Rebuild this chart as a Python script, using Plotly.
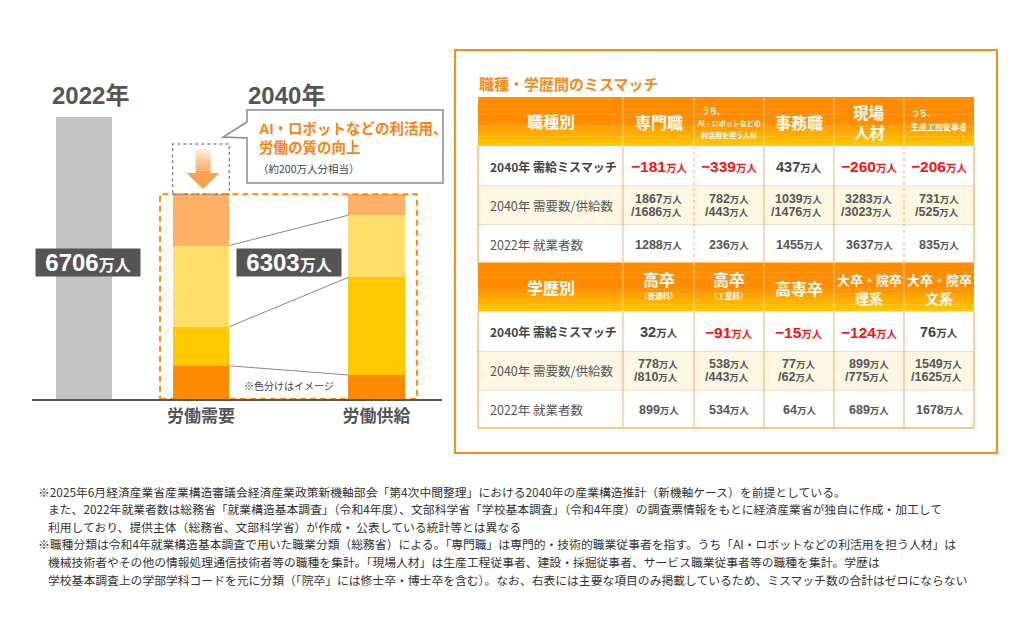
import plotly.graph_objects as go

# page is drawn inside the default 8px body margin
OFF = 8
FW, FH = 1016, 632
FONT = "Liberation Sans, Noto Sans CJK JP, sans-serif"
JP = "Noto Sans CJK JP, Noto Sans, sans-serif"

# ---------------- data ----------------
year_titles = ["2022年", "2040年"]
bar_cats = ["2022年", "労働需要", "労働供給"]
total_2022 = 6706
total_2040 = 6303
band_colors = ["#FF8A00", "#FFC800", "#FFDE6B", "#FDB066"]
demand_bands = [790, 930, 1930, 1220]
supply_bands = [570, 2320, 1480, 500]
uplift_band = 1194          # dashed box above demand (約200万人分相当 illustration)
callout_lines = ["AI・ロボットなどの利活用、", "労働の質の向上"]
callout_note = "（約200万人分相当）"
colour_note = "※色分けはイメージ"

table_title = "職種・学歴間のミスマッチ"
row_labels = ["2040年 需給ミスマッチ", "2040年 需要数/供給数", "2022年 就業者数"]

occ_corner = "職種別"
occ_cols = ["専門職", "うち、|AI・ロボットなどの|利活用を担う人材", "事務職", "現場|人材", "うち、|生産工程従事者"]
occ_mismatch = [-181, -339, 437, -260, -206]
occ_demand = [1867, 782, 1039, 3283, 731]
occ_supply = [1686, 443, 1476, 3023, 525]
occ_2022 = [1288, 236, 1455, 3637, 835]

edu_corner = "学歴別"
edu_cols = ["高卒|（普通科）", "高卒|（工業科）", "高専卒", "大卒・院卒|理系", "大卒・院卒|文系"]
edu_mismatch = [32, -91, -15, -124, 76]
edu_demand = [778, 538, 77, 899, 1549]
edu_supply = [810, 443, 62, 775, 1625]
edu_2022 = [899, 534, 64, 689, 1678]

footnotes = [
    "※2025年6月経済産業省産業構造審議会経済産業政策新機軸部会「第4次中間整理」における2040年の産業構造推計（新機軸ケース）を前提としている。",
    "また、2022年就業者数は総務省「就業構造基本調査」（令和4年度）、文部科学省「学校基本調査」（令和4年度）の調査票情報をもとに経済産業省が独自に作成・加工して",
    "利用しており、提供主体（総務省、文部科学省）が作成・ 公表している統計等とは異なる",
    "※職種分類は令和4年就業構造基本調査で用いた職業分類（総務省）による。「専門職」は専門的・技術的職業従事者を指す。うち「AI・ロボットなどの利活用を担う人材」は",
    "機械技術者やその他の情報処理通信技術者等の職種を集計。「現場人材」は生産工程従事者、建設・採掘従事者、サービス職業従事者等の職種を集計。学歴は",
    "学校基本調査上の学部学科コードを元に分類（「院卒」には修士卒・博士卒を含む）。なお、右表には主要な項目のみ掲載しているため、ミスマッチ数の合計はゼロにならない",
]

# ---------------- helpers (page pixels -> paper) ----------------
def X(px):
    return (px - OFF) / FW


def Y(py):
    return 1 - (py - OFF) / FH


fig = go.Figure()
shapes = []
anns = []


def ann(x, y, text, size, color="#444444", xanchor="center", family=FONT, **kw):
    anns.append(dict(x=X(x), y=Y(y), xref="paper", yref="paper", text=text,
                     showarrow=False, xanchor=xanchor, yanchor="middle",
                     font=dict(size=size, color=color, family=family), **kw))


def rect(x0, y0, x1, y1, fill="rgba(0,0,0,0)", lc=None, lw=0, dash=None, layer="above"):
    d = dict(type="rect", xref="paper", yref="paper", x0=X(x0), x1=X(x1), y0=Y(y0), y1=Y(y1),
             fillcolor=fill, layer=layer, line=dict(width=lw, color=lc or "rgba(0,0,0,0)"))
    if dash:
        d["line"]["dash"] = dash
    shapes.append(d)


def hline(x0, x1, y, color, lw=1, dash=None):
    d = dict(type="line", xref="paper", yref="paper", x0=X(x0), x1=X(x1), y0=Y(y), y1=Y(y),
             line=dict(color=color, width=lw))
    if dash:
        d["line"]["dash"] = dash
    shapes.append(d)


def vline(x, y0, y1, color, lw=1, dash=None):
    d = dict(type="line", xref="paper", yref="paper", x0=X(x), x1=X(x), y0=Y(y0), y1=Y(y1),
             line=dict(color=color, width=lw))
    if dash:
        d["line"]["dash"] = dash
    shapes.append(d)


# ---------------- left chart (bars through axes) ----------------
cat_order = [bar_cats[0], "_g1", bar_cats[1], "_g2", "_g3", bar_cats[2]]
idx = {c: i for i, c in enumerate(cat_order)}
AX_L, AX_R = 32, 442
XR0, XR1 = -0.889, 6.12
Y_BOT, Y_TOPPX = 399, 79
Y_TOP = total_2022 * (Y_BOT - Y_TOPPX) / 282.0
BW = 0.97


def xpx(v):
    return AX_L + (v - XR0) / (XR1 - XR0) * (AX_R - AX_L)


def ypx(v):
    return Y_BOT - v / Y_TOP * (Y_BOT - Y_TOPPX)


fig.add_bar(x=[bar_cats[0]], y=[total_2022], marker=dict(color="#C4C4C4", line=dict(width=0)),
            width=0.96, hoverinfo="skip")
for c, d, s in zip(band_colors, demand_bands, supply_bands):
    fig.add_bar(x=[bar_cats[1], bar_cats[2]], y=[d, s], width=BW,
                marker=dict(color=c, line=dict(width=0)), hoverinfo="skip")

iD, iS = idx[bar_cats[1]], idx[bar_cats[2]]
cum_d, cum_s = [], []
acc = 0
for v in demand_bands:
    acc += v
    cum_d.append(acc)
acc = 0
for v in supply_bands:
    acc += v
    cum_s.append(acc)

# connector lines between band boundaries
for k in range(len(demand_bands) - 1):
    shapes.append(dict(type="line", xref="x", yref="y", x0=iD + BW / 2, x1=iS - BW / 2,
                       y0=cum_d[k], y1=cum_s[k], line=dict(color="#8A8A8A", width=1)))

# orange dashed frame around 2040 bars
shapes.append(dict(type="rect", xref="x", yref="y", x0=iD - 0.7, x1=iS + 0.69, y0=0, y1=cum_d[-1],
                   line=dict(color="#FF8A00", width=2, dash="6px,4px"), fillcolor="rgba(0,0,0,0)"))
# grey dashed box above demand bar
shapes.append(dict(type="rect", xref="x", yref="y", x0=iD - BW / 2, x1=iD + BW / 2,
                   y0=cum_d[-1], y1=cum_d[-1] + uplift_band,
                   line=dict(color="#8A8A8A", width=1.5, dash="3px,3px"), fillcolor="rgba(0,0,0,0)"))

# gradient arrow inside the grey box
cx = xpx(iD) + 2
top_box = ypx(cum_d[-1] + uplift_band)
a_top, a_mid, a_tip = top_box + 5, top_box + 29, top_box + 45
n = 10
for k in range(n):
    t = (k + 1) / n
    y0 = a_top + (a_mid - a_top) * k / n
    y1 = a_top + (a_mid - a_top) * (k + 1) / n
    rect(cx - 7.5, y0, cx + 7.5, y1, fill=f"rgba(253,160,80,{0.12 + 0.88 * t:.2f})")
shapes.append(dict(type="path", xref="paper", yref="paper",
                   path=f"M {X(cx-16.5)},{Y(a_mid)} L {X(cx+16.5)},{Y(a_mid)} L {X(cx)},{Y(a_tip)} Z",
                   fillcolor="#FDA04F", line=dict(width=0)))

# value labels on dark boxes
y_lab = (Y_BOT - 262.5) / (Y_BOT - Y_TOPPX) * Y_TOP
for xv, tot, xs in [(idx[bar_cats[0]], total_2022, 4), ((iD + iS) / 2, total_2040, 0)]:
    anns.append(dict(x=xv, y=y_lab, xref="x", yref="y", xshift=xs, showarrow=False,
                     text=f"<b>{tot}</b><span style='font-size:16px'><b>万人</b></span>",
                     font=dict(size=24, color="white", family=FONT), bgcolor="#555555",
                     width=104, height=27, borderpad=0, valign="middle"))

# year titles
ann(xpx(idx[bar_cats[0]]) + 6, 95, f"<b>{year_titles[0]}</b>", 24, "#555555")
ann(xpx((iD + iS) / 2) - 2, 95, f"<b>{year_titles[1]}</b>", 24, "#555555")

# callout
cpath = [(247, 110), (443, 110), (443, 183), (247, 183), (247, 138), (223, 137), (247, 122)]
shapes.append(dict(type="path", xref="paper", yref="paper",
                   path="M " + " L ".join(f"{X(a)},{Y(b)}" for a, b in cpath) + " Z",
                   fillcolor="white", line=dict(color="#8A8A8A", width=1.5)))
ann(257, 129, f"<b>{callout_lines[0]}</b>", 14.5, "#FA8214", xanchor="left")
ann(257, 148, f"<b>{callout_lines[1]}</b>", 14.5, "#FA8214", xanchor="left")
ann(256, 168, callout_note, 10.5, "#444444", xanchor="left", family=JP)
ann(xpx((iD + iS) / 2), 385, colour_note, 10, "#444444", family=JP)

# ---------------- right panel / table ----------------
rect(455, 50, 997, 453, lc="#FF8C1A", lw=2)
ann(477, 84, f"<b>{table_title}</b>", 15, "#F28A1E", xanchor="left", family=JP)

COLS = [478, 623, 694, 764, 834, 904, 974]
HEAD_H = 49
ROW_H = [40, 38.5, 38]
BORDER_OR = "#F7B068"
BORDER_GR = "#E6DCC8"


def grad(t):
    a, b = (255, 140, 0), (255, 200, 0)
    if t < 0.5:
        return "rgb(255,140,0)"
    u = (t - 0.5) / 0.5
    return "rgb(%d,%d,%d)" % tuple(round(a[i] + (b[i] - a[i]) * u) for i in range(3))


def man(v, fs_unit):
    return f"{v}<span style='font-size:{fs_unit}px'>万人</span>"


def est_w(s, fs_num, fs_unit):
    w = 0
    for ch in s:
        w += 0.3 * fs_num if ch in "/ " else 0.556 * fs_num
    return w + 2 * fs_unit


sections = [
    (97.0, occ_corner, occ_cols, occ_mismatch, occ_demand, occ_supply, occ_2022, True),
    (262.5, edu_corner, edu_cols, edu_mismatch, edu_demand, edu_supply, edu_2022, False),
]

for T, corner, heads, mis, dem, sup, emp, dotted in sections:
    # header gradient
    ns = 20
    for k in range(ns):
        rect(COLS[0], T + HEAD_H * k / ns, COLS[-1], T + HEAD_H * (k + 1) / ns + 0.4, fill=grad(k / (ns - 1)))
    for j in range(1, 6):
        vline(COLS[j], T, T + HEAD_H, "rgba(255,255,255,0.55)", 1)
    yc = T + HEAD_H / 2
    ann((COLS[0] + COLS[1]) / 2, yc, f"<b>{corner}</b>", 16, "white", family=JP)
    for j, h in enumerate(heads):
        c = (COLS[j + 1] + COLS[j + 2]) / 2
        parts = h.split("|")
        if parts[0] == "うち、":
            subs = parts[1:]
            fs = 7 if len(subs) > 1 else 8
            offs = [-11, 1.5, 13.5] if len(subs) > 1 else [-9.5, 4.5]
            ann(COLS[j + 1] + 6, yc + offs[0], "<b>うち、</b>", 7.5, "white", xanchor="left", family=JP)
            for s, o in zip(subs, offs[1:]):
                ann(c, yc + o, f"<b>{s}</b>", fs, "white", family=JP)
        elif len(parts) == 1:
            ann(c, yc + 0.5, f"<b>{parts[0]}</b>", 16, "white", family=JP)
        else:
            a, b = parts
            if b.startswith("（"):
                ann(c, yc - 8, f"<b>{a}</b>", 16, "white", family=JP)
                ann(c, yc + 8.5, f"<b>{b}</b>", 7.5, "white", family=JP)
            elif len(a) >= 4:
                ann(c, yc - 7.5, f"<b>{a}</b>", 13, "white", family=JP)
                ann(c, yc + 10.5, f"<b>{b}</b>", 14, "white", family=JP)
            else:
                ann(c, yc - 9.5, f"<b>{a}</b>", 15.5, "white", family=JP)
                ann(c, yc + 10.5, f"<b>{b}</b>", 15.5, "white", family=JP)

    # body
    r = [T + HEAD_H]
    for h in ROW_H:
        r.append(r[-1] + h)
    fills = ["white", "#FCF6E3", "white"]
    for i in range(3):
        rect(COLS[0], r[i], COLS[-1], r[i + 1], fill=fills[i])
    for i in (1, 2):
        hline(COLS[0], COLS[-1], r[i], BORDER_GR, 1)
    for j in range(1, 6):
        dash = "dot" if (dotted and j in (2, 5)) else None
        vline(COLS[j], r[0], r[3], BORDER_OR, 1, dash)
    vline(COLS[0], r[0], r[3], BORDER_OR, 1.3)
    vline(COLS[-1], r[0], r[3], BORDER_OR, 1.3)
    if not dotted:
        hline(COLS[0], COLS[-1], r[3], BORDER_OR, 1.5)

    # row labels
    mids = [(r[i] + r[i + 1]) / 2 for i in range(3)]
    ann(488, mids[0], f"<b>{row_labels[0]}</b>", 12, "#444444", xanchor="left", family=JP)
    ann(488, mids[1], row_labels[1], 12.5, "#555555", xanchor="left", family=JP)
    ann(488, mids[2] + 0.5, row_labels[2], 12.5, "#555555", xanchor="left", family=JP)

    for j in range(5):
        c = (COLS[j + 1] + COLS[j + 2]) / 2
        v = mis[j]
        if v < 0:
            ann(c, mids[0] + 0.5, f"<b>−{abs(v)}<span style='font-size:10.5px'>万人</span></b>", 15.5, "#FF1010")
        else:
            ann(c, mids[0] + 0.5, f"<b>{v}<span style='font-size:10.5px'>万人</span></b>", 14.5, "#444444")
        s1, s2 = f"{dem[j]}", f"/{sup[j]}"
        wmax = max(est_w(s1, 12.5, 9.5), est_w(s2, 12.5, 9.5))
        xr = c + wmax / 2
        ann(xr, mids[1] - 6.5, f"<b>{man(s1, 9.5)}</b>", 12.5, "#555555", xanchor="right")
        ann(xr, mids[1] + 6.5, f"<b>{man(s2, 9.5)}</b>", 12.5, "#555555", xanchor="right")
        ann(c, mids[2] + 1, f"<b>{man(emp[j], 9.5)}</b>", 12.5, "#555555")

# ---------------- footnotes ----------------
for i, line in enumerate(footnotes):
    x0 = 36 if line.startswith("※") else 46
    ann(x0, 491 + 17.6 * i, line, 11.8, "#333333", xanchor="left", family=JP)

fig.update_layout(
    width=FW, height=FH, margin=dict(l=0, r=0, t=0, b=0),
    paper_bgcolor="white", plot_bgcolor="white",
    barmode="stack", bargap=0, showlegend=False, hovermode=False,
    xaxis=dict(type="category", categoryorder="array", categoryarray=cat_order,
               range=[XR0, XR1], domain=[X(AX_L), X(AX_R)],
               showline=True, linecolor="#555555", linewidth=2, showgrid=False, zeroline=False,
               ticks="", tickmode="array", tickvals=[bar_cats[1], bar_cats[2]],
               ticktext=[f"<b>{bar_cats[1]}</b>", f"<b>{bar_cats[2]}</b>"],
               tickfont=dict(size=17, color="#555555", family=JP), ticklabelstandoff=1),
    yaxis=dict(range=[0, Y_TOP], domain=[Y(Y_BOT), Y(Y_TOPPX)], visible=False),
    shapes=shapes, annotations=anns,
)

fig.write_html("out.html")
